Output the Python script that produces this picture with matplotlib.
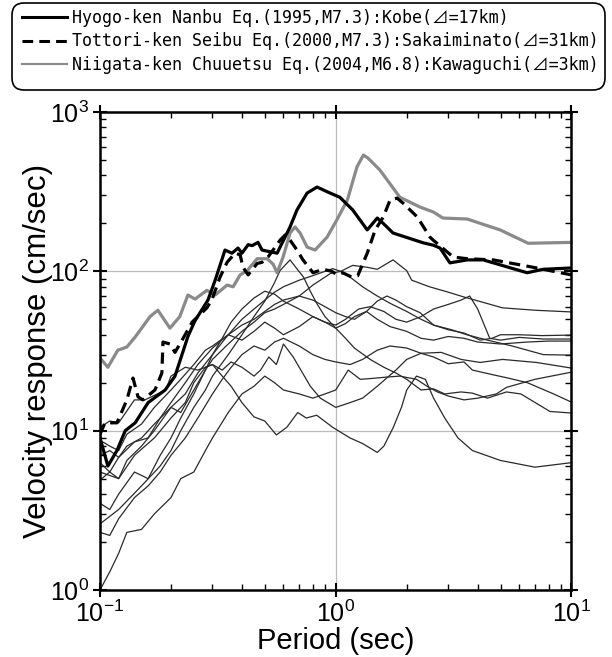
import matplotlib
matplotlib.use("Agg")
import matplotlib.pyplot as plt
from matplotlib.lines import Line2D
from matplotlib.patches import FancyBboxPatch
from matplotlib.ticker import LogLocator, NullFormatter

plt.rcParams['font.family'] = ['Liberation Sans', 'DejaVu Sans']

# --- heavy records (period s, velocity cm/s) ---
kobe_T = [0.1, 0.108, 0.118, 0.128, 0.141, 0.16, 0.189, 0.208, 0.236, 0.253, 0.287, 0.308,
          0.339, 0.363, 0.385, 0.40, 0.425, 0.442, 0.468, 0.487, 0.564, 0.64, 0.685, 0.756,
          0.833, 0.946, 1.04, 1.18, 1.36, 1.5, 1.59, 1.75, 2.35, 2.59, 2.77, 3.05, 3.61,
          4.22, 6.48, 7.58, 10]
kobe_v = [9.0, 6.0, 7.5, 10, 11.2, 15, 18, 22, 39, 49, 66, 88, 136, 130, 140, 130, 147, 145,
          152, 136, 130, 190, 243, 310, 338, 310, 292, 243, 182, 216, 200, 174, 151, 146,
          140, 113, 118, 118, 98, 103, 105]

tottori_T = [0.1, 0.105, 0.118, 0.13, 0.138, 0.145, 0.152, 0.171, 0.183, 0.185, 0.198, 0.208,
             0.223, 0.246, 0.284, 0.298, 0.323, 0.346, 0.374, 0.393, 0.404, 0.425, 0.464,
             0.487, 0.516, 0.581, 0.61, 0.64, 0.685, 0.726, 0.801, 0.883, 0.964, 1.01, 1.07,
             1.17, 1.24, 1.36, 1.47, 1.59, 1.70, 1.82, 1.93, 2.22, 2.51, 2.59, 3.15, 3.61,
             4.66, 6.88, 10]
tottori_v = [9.5, 11.2, 11.2, 15.6, 21.4, 16.3, 15.6, 18, 23, 36, 35, 31, 37, 48, 59, 66, 92,
             114, 130, 127, 106, 95, 112, 114, 123, 157, 169, 157, 136, 118, 98, 103, 100, 95,
             98, 92, 94, 130, 182, 219, 280, 288, 268, 219, 164, 157, 123, 120, 118, 106, 95]

niigata_T = [0.1, 0.108, 0.119, 0.13, 0.141, 0.163, 0.176, 0.198, 0.218, 0.236, 0.253, 0.284,
             0.308, 0.346, 0.367, 0.393, 0.421, 0.464, 0.512, 0.542, 0.564, 0.598, 0.64,
             0.672, 0.706, 0.756, 0.817, 0.919, 1.01, 1.12, 1.23, 1.31, 1.37, 1.54, 1.87,
             2.28, 2.59, 2.85, 3.61, 4.98, 6.55, 10]
niigata_v = [28.6, 25, 32, 33.5, 38.7, 52, 57, 44, 52, 71, 67, 76, 71, 82, 80, 95, 101, 120,
             120, 111, 98, 123, 174, 190, 174, 142, 136, 164, 210, 280, 452, 537, 514, 432,
             292, 253, 236, 216, 213, 182, 150, 152]

# --- other records (thin lines) ---
rec01_T = [0.1, 0.11, 0.12, 0.13, 0.15, 0.17, 0.2, 0.22, 0.25, 0.28, 0.3, 0.35, 0.4, 0.45,
           0.5, 0.55, 0.6, 0.7, 0.8, 0.9, 0.95, 1.05, 1.18, 1.36, 1.5, 1.75, 2.0, 2.1, 2.5,
           3.0, 3.5, 4.2, 5.1, 7.0, 10]
rec01_v = [4.9, 5.5, 5.0, 6.5, 8.0, 10, 14, 13, 18, 24, 28, 35, 42, 48, 55, 58, 62, 70, 82,
           92, 97, 100, 109, 106, 103, 118, 101, 88, 80, 74, 69, 64, 59, 57, 55.6]

rec02_T = [0.1, 0.12, 0.15, 0.18, 0.2, 0.22, 0.25, 0.28, 0.3, 0.35, 0.4, 0.45, 0.5, 0.55,
           0.58, 0.64, 0.68, 0.73, 0.78, 0.83, 0.9, 1.0, 1.1, 1.2, 1.4, 1.6, 1.8, 2.0, 2.3,
           2.6, 2.9, 3.4, 3.8, 4.4, 5.3, 6.1, 8.1, 10]
rec02_v = [2.6, 3.2, 4.5, 6, 7.5, 10, 14, 18, 22, 30, 40, 52, 65, 85, 101, 118, 105, 92, 75,
           63, 52, 44, 38, 33, 28, 25, 23, 21, 18, 18.3, 17, 17.5, 17.2, 16, 17.5, 17, 13.2,
           12.9]

rec03_T = [0.1, 0.11, 0.12, 0.13, 0.15, 0.17, 0.2, 0.23, 0.26, 0.3, 0.35, 0.4, 0.45, 0.5,
           0.55, 0.6, 0.7, 0.8, 0.9, 0.97, 1.05, 1.15, 1.3, 1.5, 1.7, 2.0, 2.3, 2.6, 3.0, 3.5,
           4.1, 4.6, 5.0, 6.0, 7.5, 10]
rec03_v = [7.0, 7.5, 6.8, 8, 9, 11, 14, 17, 23, 30, 40, 50, 58, 66, 74, 80, 88, 94, 100, 104,
           100, 92, 80, 70, 63, 56, 50, 46, 43, 41, 37, 38, 40, 40, 39.5, 39.8]

rec04_T = [0.1, 0.11, 0.12, 0.14, 0.16, 0.18, 0.2, 0.22, 0.25, 0.28, 0.3, 0.33, 0.36, 0.4,
           0.45, 0.5, 0.55, 0.6, 0.7, 0.8, 0.9, 1.0, 1.1, 1.25, 1.4, 1.6, 1.8, 2.0, 2.3, 2.6,
           3.0, 3.4, 3.7, 4.0, 4.5, 5.0, 6.0, 7.6, 10]
rec04_v = [3.5, 3.2, 4.0, 5.5, 5.0, 7, 9, 12, 17, 24, 30, 38, 48, 58, 68, 75, 72, 65, 58, 52,
           48, 46, 50, 58, 60, 56, 50, 48, 52, 58, 62, 66, 70, 58, 38, 37, 38.5, 37.6, 37.6]

rec05_T = [0.1, 0.11, 0.12, 0.13, 0.15, 0.17, 0.2, 0.22, 0.25, 0.28, 0.3, 0.35, 0.4, 0.45,
           0.5, 0.55, 0.6, 0.7, 0.8, 0.9, 1.0, 1.1, 1.2, 1.35, 1.5, 1.7, 2.0, 2.3, 2.6, 3.0,
           3.5, 4.0, 5.0, 6.5, 8.0, 10]
rec05_v = [8.7, 8.0, 7.5, 9.5, 11, 14, 18, 21, 26, 32, 34, 40, 37, 42, 48, 44, 40, 45, 52,
           48, 44, 47, 52, 56, 50, 45, 42, 38, 37, 39, 38, 36, 35, 36, 36.5, 36.5]

rec06_T = [0.1, 0.11, 0.12, 0.14, 0.16, 0.18, 0.2, 0.23, 0.26, 0.3, 0.35, 0.4, 0.45, 0.5,
           0.55, 0.6, 0.7, 0.8, 0.9, 1.0, 1.1, 1.2, 1.35, 1.5, 1.65, 1.8, 2.0, 2.28, 2.6, 3.1,
           3.6, 4.4, 5.6, 7.6, 10]
rec06_v = [6.3, 5.5, 6.8, 8.5, 9, 12, 15, 20, 26, 33, 40, 46, 50, 56, 62, 66, 70, 66, 60, 55,
           52, 50, 56, 65, 70, 66, 60, 55, 46, 43, 40, 37, 34, 30, 29.8]

rec07_T = [0.1, 0.11, 0.12, 0.14, 0.16, 0.18, 0.2, 0.23, 0.26, 0.3, 0.33, 0.36, 0.4, 0.45,
           0.5, 0.55, 0.6, 0.7, 0.8, 0.9, 1.0, 1.15, 1.3, 1.5, 1.7, 2.0, 2.3, 2.8, 3.4, 4.1,
           5.1, 7.1, 10]
rec07_v = [2.3, 2.2, 2.8, 3.8, 4.5, 5.5, 7, 9, 12, 17, 21, 25, 30, 34, 32, 36, 38, 34, 30,
           28, 27, 26, 28, 32, 34, 33, 30.6, 31, 28, 26.8, 28, 26.8, 24.7]

rec08_T = [0.1, 0.11, 0.12, 0.13, 0.15, 0.17, 0.2, 0.22, 0.25, 0.28, 0.3, 0.35, 0.4, 0.45,
           0.5, 0.55, 0.6, 0.7, 0.8, 0.9, 1.0, 1.13, 1.27, 1.44, 1.65, 1.87, 2.2, 2.44, 2.7,
           3.0, 3.5, 4.0, 4.8, 5.3, 7, 10]
rec08_v = [1.0, 1.3, 1.7, 2.3, 2.4, 3.0, 3.8, 5, 5.5, 7.5, 9, 13, 17, 19, 22, 20, 18, 17, 16,
           17, 18, 24, 21, 21.3, 21.7, 22, 21, 19, 17.5, 16.5, 15.6, 16, 17, 18.7, 21, 23.3]

rec09_T = [0.1, 0.12, 0.14, 0.17, 0.2, 0.23, 0.25, 0.28, 0.3, 0.33, 0.36, 0.4, 0.45, 0.48,
           0.52, 0.56, 0.6, 0.66, 0.7, 0.78, 0.86, 1.0, 1.15, 1.3, 1.5, 1.8, 2.0, 2.3, 2.6,
           3.0, 3.5, 3.8, 4.6, 5.3, 6.5, 8.4, 10]
rec09_v = [5.5, 5.0, 7, 9, 12, 15, 20, 25, 26, 24, 27, 25, 22, 24, 29, 26, 35, 29, 25, 19,
           16, 14, 15, 16, 19, 24, 28, 30.6, 29, 26.3, 27, 24, 22.5, 21.5, 20, 17, 15.1]

rec10_T = [0.1, 0.11, 0.12, 0.14, 0.155, 0.19, 0.2, 0.21, 0.23, 0.26, 0.3, 0.33, 0.36, 0.4,
           0.45, 0.5, 0.56, 0.62, 0.69, 0.75, 0.83, 0.97, 1.15, 1.3, 1.5, 1.6, 1.75, 1.9, 2.0,
           2.2, 2.4, 2.6, 2.9, 3.3, 3.8, 5, 7, 10]
rec10_v = [10.5, 11.5, 11.2, 15.6, 15.6, 18, 22, 23, 25, 24, 26, 22, 19, 15, 12.2, 11.5, 9.4,
           10.5, 13, 12, 12.5, 10.5, 9, 8.3, 7.3, 8.0, 10.4, 14, 18, 22, 21, 16, 12, 9, 7.5,
           6.5, 5.9, 6.3]

thin_records = [(rec01_T, rec01_v), (rec02_T, rec02_v), (rec03_T, rec03_v),
                (rec04_T, rec04_v), (rec05_T, rec05_v), (rec06_T, rec06_v),
                (rec07_T, rec07_v), (rec08_T, rec08_v), (rec09_T, rec09_v),
                (rec10_T, rec10_v)]

labels = ["Hyogo-ken Nanbu Eq.(1995,M7.3):Kobe(⊿=17km)",
          "Tottori-ken Seibu Eq.(2000,M7.3):Sakaiminato(⊿=31km)",
          "Niigata-ken Chuuetsu Eq.(2004,M6.8):Kawaguchi(⊿=3km)"]

fig = plt.figure(figsize=(6.12, 6.57), dpi=100)
ax = fig.add_axes([0.1634, 0.102, 0.7704, 0.7275])

for T, v in thin_records:
    ax.plot(T, v, color='#2a2a2a', lw=0.9)

ax.plot(niigata_T, niigata_v, color='#8a8a8a', lw=2.3)
ax.plot(tottori_T, tottori_v, color='black', lw=2.3, dashes=(3.5, 2))
ax.plot(kobe_T, kobe_v, color='black', lw=2.3)

ax.set_xscale('log')
ax.set_yscale('log')
ax.set_xlim(0.1, 10)
ax.set_ylim(1, 1000)
ax.xaxis.set_major_locator(LogLocator(base=10, numticks=10))
ax.yaxis.set_major_locator(LogLocator(base=10, numticks=10))
ax.xaxis.set_minor_locator(LogLocator(base=10, subs=range(2, 10), numticks=20))
ax.yaxis.set_minor_locator(LogLocator(base=10, subs=range(2, 10), numticks=20))
ax.xaxis.set_minor_formatter(NullFormatter())
ax.yaxis.set_minor_formatter(NullFormatter())

ax.grid(True, which='major', color='#bbbbbb', lw=0.9)
ax.tick_params(which='major', direction='inout', length=10, width=1.5,
               top=True, right=True, labelsize=18, pad=3)
ax.tick_params(which='minor', direction='in', length=4, width=1.0, top=True, right=True)
for s in ax.spines.values():
    s.set_linewidth(1.8)

ax.set_xlabel('Period (sec)', fontsize=21, labelpad=0)
ax.set_ylabel('Velocity response (cm/sec)', fontsize=22.5, labelpad=-2)

# legend box (rounded) drawn in pixel space
box = FancyBboxPatch((12, 567), 593, 87, boxstyle='round,pad=0,rounding_size=12',
                     transform=None, facecolor='white', edgecolor='black', lw=1.2)
fig.patches.append(box)

handles = [Line2D([], [], color='black', lw=2.2),
           Line2D([], [], color='black', lw=2.2, dashes=(3.5, 2)),
           Line2D([], [], color='#8a8a8a', lw=1.6)]
leg = fig.legend(handles, labels, loc='upper left', bbox_to_anchor=(22 / 612, 1 - 9 / 657),
                 prop={'family': ['DejaVu Sans Mono', 'Noto Sans CJK JP'], 'size': 12},
                 handlelength=2.7, handletextpad=0.3, labelspacing=0.33,
                 borderpad=0, borderaxespad=0, frameon=False)

fig.savefig('out.png', dpi=100)
